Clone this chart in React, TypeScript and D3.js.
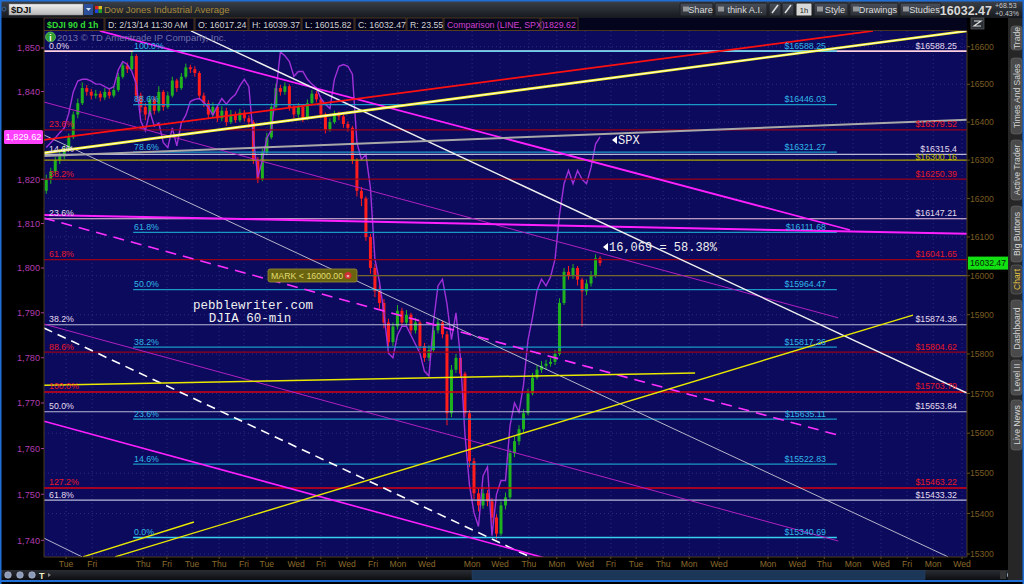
import React from "react";
import * as d3 from "d3";

// ---------------- data ----------------
const djiFirstOpen = 16220;
const djiClose = [
  16250,16270,16300,16310,16330,16360,16420,16450,16490,16480,
  16470,16475,16465,16480,16470,16485,16520,16550,16540,16575,
  16470,16440,16420,16460,16430,16480,16440,16470,16510,16490,
  16520,16545,16540,16530,16470,16450,16420,16440,16410,16430,
  16400,16420,16405,16425,16410,16400,16300,16250,16320,16360,
  16440,16490,16480,16495,16440,16420,16440,16410,16450,16475,
  16460,16420,16380,16400,16420,16415,16395,16385,16300,16220,
  16200,16100,16020,15960,15930,15880,15830,15870,15910,15880,
  15900,15860,15880,15820,15790,15810,15860,15880,15850,15650,
  15760,15790,15750,15650,15530,15450,15420,15450,15430,15390,
  15350,15420,15440,15550,15580,15610,15650,15700,15740,15760,
  15770,15775,15780,15800,15930,16010,16000,16020,15990,15960,
  15980,16000,16045,16032.47,
];
const djiHigh = [
  16262,16280,16308,16322,16340,16370,16428,16462,16505,16498,
  16488,16485,16482,16490,16488,16495,16530,16560,16558,16588,
  16580,16478,16450,16470,16468,16495,16485,16480,16520,16515,
  16530,16555,16552,16548,16535,16478,16458,16452,16448,16442,
  16438,16432,16428,16435,16432,16418,16405,16308,16330,16372,
  16450,16502,16498,16505,16500,16448,16450,16445,16460,16485,
  16482,16465,16425,16410,16430,16428,16420,16402,16390,16305,
  16230,16205,16108,16030,15975,15940,15890,15880,15925,15918,
  15912,15905,15892,15885,15828,15822,15870,15890,15885,15858,
  15772,15800,15795,15755,15658,15538,15462,15465,15458,15438,
  15398,15430,15452,15560,15592,15620,15660,15712,15752,15772,
  15782,15785,15790,15810,15942,16020,16025,16030,16025,15995,
  15990,16012,16055,16050,
];
const djiLow = [
  16212,16238,16262,16290,16302,16325,16355,16410,16445,16470,
  16460,16462,16455,16458,16462,16465,16480,16515,16530,16535,
  16455,16425,16405,16415,16420,16425,16430,16435,16465,16480,
  16485,16515,16530,16520,16460,16440,16408,16412,16400,16402,
  16390,16395,16398,16400,16402,16385,16290,16240,16245,16315,
  16355,16435,16470,16472,16430,16410,16412,16400,16405,16445,
  16452,16410,16370,16375,16395,16405,16385,16375,16290,16205,
  16180,16090,16005,15945,15915,15865,15815,15820,15862,15870,
  15872,15850,15852,15810,15780,15782,15805,15852,15840,15620,
  15640,15752,15740,15640,15515,15435,15405,15412,15418,15375,
  15336,15345,15410,15435,15540,15570,15602,15645,15695,15735,
  15752,15760,15768,15772,15795,15925,15990,15992,15975,15870,
  15950,15972,15995,16025,
];
const spxClose = [
  1827.2,1828.3,1829.4,1830.6,1831.7,1835,1839.9,1842.4,1842.8,1842.8,
  1842.4,1841.7,1841.7,1841.1,1840.6,1841.1,1845,1846.9,1846.2,1844.6,
  1841.7,1833.2,1831,1835.5,1832.1,1832.8,1828.3,1827.2,1831.7,1827.6,
  1832.8,1834.6,1837.7,1838.2,1838.4,1837.5,1836.4,1834.6,1836.6,1838.4,
  1837.1,1838.4,1839.3,1841.3,1842.8,1841.1,1829.4,1820.5,1824.3,1829.4,
  1831.2,1839.9,1849.1,1848.2,1846.9,1843.5,1844.6,1844.6,1842.8,1841.7,
  1840.8,1838.4,1837.1,1836.1,1842.8,1845.8,1846.2,1845.8,1844,1828.3,
  1824.5,1825.6,1818,1802,1797,1790,1781,1780,1785,1787,
  1787,1785,1783,1781,1777,1776,1788,1796,1797.5,1792,
  1784,1790,1780,1763,1752,1746,1743,1754,1756,1741,
  1750,1753,1753,1765,1770,1768,1774,1784,1789,1795,
  1797.5,1796,1798,1802,1812,1819,1822,1819,1822,1820,
  1819,1822.7,1828,1829.62,
];
const xTickLabels = ["Tue","Fri","Thu","Fri","Tue","Thu","Fri","Tue","Wed","Fri","Wed","Fri","Mon","Wed","Mon","Wed","Thu","Mon","Wed","Fri","Tue","Thu","Mon","Wed","Mon","Wed","Thu","Mon","Wed","Fri","Mon","Wed"];
const xTickPos = [4.9,10.7,22.0,27.3,32.9,38.9,44.4,49.5,56.0,61.5,67.3,73.1,78.6,85.0,95.1,101.3,107.7,113.9,120.2,125.9,131.5,137.5,143.3,149.9,160.8,167.3,173.3,179.7,185.9,191.7,197.5,203.9];
const djiTicks = [15300,15400,15500,15600,15700,15800,15900,16000,16100,16200,16300,16400,16500,16600];
const spxTicks = [1740,1750,1760,1770,1780,1790,1800,1810,1820,1840,1850];

const whiteFibPct = ["0.0%","14.6%","23.6%","38.2%","50.0%","61.8%"];
const whiteFibVal = [16588.25,16315.4,16147.21,15874.36,15653.84,15433.32];
const redFibPct = ["23.6%","38.2%","61.8%","88.6%","100.0%","127.2%"];
const redFibVal = [16379.52,16250.39,16041.65,15804.62,15703.79,15463.22];
const cyanFibPct = ["100.0%","88.6%","78.6%","61.8%","50.0%","38.2%","23.6%","14.6%","0.0%"];
const cyanFibVal = [16588.25,16446.03,16321.27,16111.68,15964.47,15817.26,15635.11,15522.83,15340.69];
const cyanFibSpan = [19.8,176.1];
const yellowLevel = 16300.16;
const markLevel = 16000;
const markSpan = [69.7,205];

// trendline endpoints: [bar index, DJI value]
const redTrend = [[0,16353],[184.1,16642]];
const yellowWhiteTrend = [[0,16319],[205,16642]];
const grayTrend = [[0,16311],[205,16406]];
const magentaDesc = [[12.4,16642],[179.0,16118]];
const magentaFlat = [[0,16157],[205,16108]];
const purpleThin1 = [[0,16453],[176.4,15892]];
const purpleThin2 = [[0,15876],[176.4,15332]];
const magentaLow = [[0,15630],[111.3,15290]];
const magentaDashed = [[0,16149],[176.4,15595]];
const whiteDashed = [[0,15866],[107.9,15293]];
const whiteThinLong = [[0,16366],[200.8,15293]];
const whiteUpper = [[32.65,16642],[205,15701]];
const whiteShort = [[0,15339],[8.44,15293]];
const yellowFlat = [[0,15721],[144.6,15752]];
const yellowRise = [[15.77,15293],[193.0,15899]];
const yellowShort = [[8.66,15293],[33.3,15379]];

const spxLast = 1829.62;
const djiLast = 16032.47;

// ---------------- layout ----------------
const PL = 44, PR = 967, PT = 31, PB = 557;
const UI = "'Liberation Sans', Arial, sans-serif";
const MONO = "'Liberation Mono', 'DejaVu Sans Mono', monospace";

export default function App() {
  const x = d3.scaleLinear().domain([0, 205]).range([PL, PR]);
  const yR = d3.scaleLog().domain([15300, 16600]).range([554, 46.7]);
  const yL = d3.scaleLog().domain([1740, 1850]).range([540.3, 48]);

  const spxLine = d3.line<number>().x((_, i) => x(i + 0.5)).y((d) => yL(d));

  const seg = (p: number[][], stroke: string, w: number, dash?: string) => (
    <line x1={x(p[0][0])} y1={yR(p[0][1])} x2={x(p[1][0])} y2={yR(p[1][1])}
      stroke={stroke} strokeWidth={w} strokeDasharray={dash} />
  );

  const opens = djiClose.map((_, i) => (i === 0 ? djiFirstOpen : djiClose[i - 1]));

  const headerButtons: [string, number, number][] = [
    ["Share", 680, 713], ["think A.I.", 715, 767], ["", 769, 781], ["", 782, 794],
    ["1h", 796, 812], ["Style", 814, 848], ["Drawings", 850, 898], ["Studies", 900, 941],
  ];
  const infoCells: [string, number, number, string][] = [
    ["$DJI 90 d 1h", 44, 104, "#33dd33"], ["D: 2/13/14 11:30 AM", 105, 194, "#d0d0d0"],
    ["O: 16017.24", 195, 248, "#d0d0d0"], ["H: 16039.37", 249, 301, "#d0d0d0"],
    ["L: 16015.82", 302, 354, "#d0d0d0"], ["C: 16032.47", 355, 406, "#d0d0d0"],
    ["R: 23.55", 407, 443, "#d0d0d0"], ["Comparison (LINE, SPX)", 444, 540, "#d040d0"],
    ["1829.62", 541, 578, "#d040d0"],
  ];
  const tabs: [string, number, number, boolean][] = [
    ["Trade", 26, 50, false], ["Times And Sales", 58, 134, false], ["Active Trader", 140, 200, false],
    ["Big Buttons", 206, 262, false], ["Chart", 265, 294, true], ["Dashboard", 300, 357, false],
    ["Level II", 360, 395, false], ["Live News", 400, 450, false],
  ];

  return (
    <svg width={1024} height={584} style={{ position: "absolute", left: 0, top: 0, background: "#000" }}
      fontFamily={UI}>
      <defs>
        <linearGradient id="hdr" x1="0" y1="0" x2="0" y2="1">
          <stop offset="0" stopColor="#3b4049" />
          <stop offset="1" stopColor="#15181d" />
        </linearGradient>
        <linearGradient id="btn" x1="0" y1="0" x2="0" y2="1">
          <stop offset="0" stopColor="#4a505a" />
          <stop offset="1" stopColor="#2a2e35" />
        </linearGradient>
        <linearGradient id="inp" x1="0" y1="0" x2="0" y2="1">
          <stop offset="0" stopColor="#f0f0f0" />
          <stop offset="1" stopColor="#b8b8b8" />
        </linearGradient>
        <linearGradient id="scr" x1="0" y1="0" x2="0" y2="1">
          <stop offset="0" stopColor="#2a2d33" />
          <stop offset="1" stopColor="#0c0d10" />
        </linearGradient>
        <clipPath id="plot"><rect x={PL} y={PT} width={PR - PL} height={PB - PT} /></clipPath>
      </defs>

      <rect x={0} y={0} width={1024} height={584} fill="#000" />
      <rect x={0} y={1} width={1024} height={17} fill="url(#hdr)" />
      <rect x={0} y={0} width={1024} height={1.5} fill="#1f6fd6" />

      <circle cx={4} cy={9} r={2} fill="none" stroke="#3a6090" />
      <rect x={9} y={4} width={74} height={11} fill="url(#inp)" stroke="#888" strokeWidth={0.5} />
      <text x={11} y={13} fontSize={9.5} fontWeight="bold" fill="#111">$DJI</text>
      <rect x={84} y={4} width={9} height={11} fill="#2c4f9a" />
      <path d="M86 8 L91 8 L88.5 11 Z" fill="#cde" />
      <rect x={95} y={6} width={3.5} height={3.5} fill="#e02020" />
      <rect x={98.5} y={6} width={3.5} height={3.5} fill="#e0c020" />
      <rect x={95} y={9.5} width={3.5} height={3.5} fill="#2040e0" />
      <rect x={98.5} y={9.5} width={3.5} height={3.5} fill="#20a020" />
      <text x={104} y={13} fontSize={9.5} fill="#a8893a">Dow Jones Industrial Average</text>
      {headerButtons.map(([t, a, b], i) => (
        <g key={i}>
          <rect x={a} y={3} width={b - a} height={13} rx={1.5} fill={t === "1h" ? "#d8d8d8" : "url(#btn)"} stroke="#1a1c20" />
          {t && <text x={(a + b) / 2 + (t === "1h" ? 0 : 4)} y={12.8} fontSize={t === "1h" ? 7.5 : 9.2}
            textAnchor="middle" fill={t === "1h" ? "#222" : "#dcdcdc"}>{t}</text>}
          {t && t !== "1h" && <rect x={a + 3} y={6.5} width={6} height={5} fill="#bbb" opacity={0.7} />}
          {!t && <path d={`M${a + 3} ${13} L${b - 3} 5`} stroke="#ddd" strokeWidth={1.5} />}
        </g>
      ))}
      <text x={992} y={14.5} fontSize={12.5} fontWeight="bold" textAnchor="end" fill="#d8d8d8">16032.47</text>
      <text x={995} y={8} fontSize={7} fill="#c8c8c8">+68.53</text>
      <text x={995} y={15.5} fontSize={7} fill="#c8c8c8">+0.43%</text>

      <rect x={PL} y={18} width={PR - PL} height={13} fill="#04041c" />
      {infoCells.map(([t, a, b, c], i) => (
        <g key={i}>
          <rect x={a} y={18} width={b - a} height={12.5} fill="none" stroke="#5a4020" strokeWidth={0.8} />
          <text x={a + 3} y={27.5} fontSize={8.8} fill={c} fontWeight={i === 0 ? "bold" : "normal"}>{t}</text>
        </g>
      ))}
      <line x1={PL} y1={30.5} x2={PR} y2={30.5} stroke="#5a4020" strokeWidth={0.8} />
      <rect x={971} y={18} width={13} height={11} fill="#2a2e35" stroke="#666" strokeWidth={0.6} />
      <path d="M974 21 L981 21 L974 26 L981 26" stroke="#ddd" fill="none" strokeWidth={1.2} />

      <rect x={PL} y={PT} width={PR - PL} height={PB - PT} fill="#0c0a5c" />
      <g clipPath="url(#plot)">
        {xTickPos.map((p, i) => (
          <line key={"gx" + i} x1={x(p)} x2={x(p)} y1={PT} y2={PB} stroke="#34348a" strokeWidth={0.8} strokeDasharray="1,3" />
        ))}
        {djiTicks.map((t) => (
          <line key={"gy" + t} x1={PL} x2={PR} y1={yR(t)} y2={yR(t)} stroke="#34348a" strokeWidth={0.8} strokeDasharray="1,3" />
        ))}

        {djiClose.map((c, i) => {
          const o = opens[i];
          const up = c >= o;
          const col = up ? "#1fb21f" : "#ff1c1c";
          const cx = x(i + 0.5);
          const top = yR(Math.max(o, c));
          const bot = yR(Math.min(o, c));
          return (
            <g key={"c" + i}>
              <line x1={cx} x2={cx} y1={yR(djiHigh[i])} y2={yR(djiLow[i])} stroke={col} strokeWidth={1} />
              <rect x={cx - 1.5} y={top} width={3} height={Math.max(1, bot - top)} fill={col} />
            </g>
          );
        })}

        <path d={spxLine(spxClose) || ""} fill="none" stroke="#a030d8" strokeWidth={1.4} />

        {whiteFibVal.map((v, i) => (
          <line key={"wf" + i} x1={PL} x2={PR} y1={yR(v)} y2={yR(v)}
            stroke={i === 0 ? "#ffd0e0" : i === 2 ? "#f0c8e0" : "#b8b8d8"} strokeWidth={i === 0 ? 1.6 : 1.2} />
        ))}
        {redFibVal.map((v, i) => (
          <line key={"rf" + i} x1={PL} x2={PR} y1={yR(v)} y2={yR(v)}
            stroke={i >= 4 ? "#d80010" : "#980018"} strokeWidth={i >= 4 ? 1.6 : 1.2} />
        ))}
        <line x1={PL} x2={PR} y1={yR(yellowLevel)} y2={yR(yellowLevel)} stroke="#a8a000" strokeWidth={1.1} />
        <line x1={x(markSpan[0])} x2={x(markSpan[1])} y1={yR(markLevel)} y2={yR(markLevel)} stroke="#77672a" strokeWidth={1.2} />
        {cyanFibVal.map((v, i) => (
          <line key={"cf" + i} x1={x(cyanFibSpan[0])} x2={x(cyanFibSpan[1])} y1={yR(v)} y2={yR(v)}
            stroke={i === 0 || i === 8 ? "#38d0f0" : "#1a98c8"} strokeWidth={1.3} />
        ))}

        {seg(purpleThin1, "#b020c0", 1)}
        {seg(purpleThin2, "#b020c0", 1)}
        {seg(whiteThinLong, "#c8c8d8", 0.9)}
        {seg(whiteShort, "#c8c8d8", 0.9)}
        {seg(whiteDashed, "#ffffff", 1.6, "9,6")}
        {seg(magentaDashed, "#ff30ff", 1.6, "11,7")}
        {seg(magentaLow, "#ff20ff", 1.6)}
        {seg(magentaFlat, "#ff20ff", 2)}
        {seg(magentaDesc, "#ff20ff", 1.8)}
        {seg(whiteUpper, "#f0f0f0", 1.4)}
        {seg(grayTrend, "#a8a8a8", 2)}
        {seg(redTrend, "#ff1010", 1.8)}
        {seg(yellowWhiteTrend, "#f4f020", 2.6)}
        {seg(yellowWhiteTrend, "#ffffff", 0.9)}
        {seg(yellowFlat, "#e8e800", 1.5)}
        {seg(yellowRise, "#e8e800", 1.4)}
        {seg(yellowShort, "#e8e800", 1.4)}
      </g>

      <g fontSize={8.8}>
        {whiteFibPct.map((t, i) => (
          <text key={"wl" + i} x={49} y={yR(whiteFibVal[i]) - 2.5} fill="#e4dcf0">{t}</text>
        ))}
        {redFibPct.map((t, i) => (
          <text key={"rl" + i} x={49} y={yR(redFibVal[i]) - 2.5} fill="#e81828">{t}</text>
        ))}
        {cyanFibPct.map((t, i) => (
          <text key={"cl" + i} x={134} y={yR(cyanFibVal[i]) - 2.5} fill="#30b8e8">{t}</text>
        ))}
        {whiteFibVal.map((v, i) => (
          <text key={"wr" + i} x={957} y={yR(v) - 2.5} textAnchor="end" fill="#e4dcf0">{"$" + v}</text>
        ))}
        {redFibVal.map((v, i) => (
          <text key={"rr" + i} x={957} y={yR(v) - 2.5} textAnchor="end" fill="#e81828">{"$" + v}</text>
        ))}
        <text x={957} y={yR(yellowLevel) - 0.5} textAnchor="end" fill="#c8c000">{"$" + yellowLevel}</text>
        {cyanFibVal.map((v, i) => (
          <text key={"cr" + i} x={826} y={yR(v) - 2.5} textAnchor="end" fill="#30b8e8">{"$" + v}</text>
        ))}
      </g>

      <circle cx={50.5} cy={37} r={5} fill="#30a030" stroke="#80d080" strokeWidth={0.6} />
      <text x={50.5} y={40.5} fontSize={8.5} fontWeight="bold" textAnchor="middle" fill="#fff">i</text>
      <text x={57} y={40.5} fontSize={9.5} fill="#7070a8">2013 © TD Ameritrade IP Company, Inc.</text>

      <g fontFamily={MONO} fill="#f0f0f0">
        <text x={253} y={309} fontSize={12.5} textAnchor="middle">pebblewriter.com</text>
        <text x={250} y={322} fontSize={12.5} textAnchor="middle">DJIA 60-min</text>
        <path d="M612 140 L617 136 L617 144 Z" fill="#fff" />
        <text x={618} y={144} fontSize={12}>SPX</text>
        <path d="M603 247 L608 243 L608 251 Z" fill="#fff" />
        <text x={609} y={251} fontSize={12}>16,069 = 58.38%</text>
      </g>
      <rect x={268} y={269} width={89} height={13} rx={2} fill="#6a6410" stroke="#9a9030" strokeWidth={0.8} />
      <text x={271} y={279} fontSize={8.8} fill="#e0dc70">MARK &lt; 16000.00</text>
      <circle cx={348} cy={275.5} r={3.5} fill="#d03030" />
      <text x={348} y={278} fontSize={6} textAnchor="middle" fill="#fff">×</text>

      <line x1={PL} x2={PL} y1={PT} y2={PB} stroke="#4a3a1a" />
      {spxTicks.map((t) => (
        <g key={"la" + t}>
          <line x1={PL - 3} x2={PL} y1={yL(t)} y2={yL(t)} stroke="#a03aa0" />
          <text x={PL - 4} y={yL(t) + 3.3} fontSize={9.2} textAnchor="end" fill="#b03cb0">{d3.format(",")(t)}</text>
        </g>
      ))}
      <rect x={4} y={yL(spxLast) - 7} width={39} height={14} rx={1.5} fill="#ff40ff" />
      <text x={23.5} y={yL(spxLast) + 3.3} fontSize={9.2} textAnchor="middle" fill="#fff">{d3.format(",.2f")(spxLast)}</text>

      <line x1={PR} x2={PR} y1={PT} y2={PB} stroke="#4a3a1a" />
      {djiTicks.map((t) => (
        <g key={"ra" + t}>
          <line x1={PR} x2={PR + 3} y1={yR(t)} y2={yR(t)} stroke="#6a5020" />
          <text x={PR + 3} y={yR(t) + 3.2} fontSize={8.6} fill="#7a5c24">{t}</text>
        </g>
      ))}
      <rect x={968} y={yR(djiLast) - 6.5} width={40} height={13} fill="#12e012" />
      <text x={988} y={yR(djiLast) + 3.2} fontSize={8.6} textAnchor="middle" fill="#062006">{djiLast}</text>

      <line x1={PL} x2={PR} y1={PB} y2={PB} stroke="#4a3a1a" />
      {xTickPos.map((p, i) => (
        <g key={"bx" + i}>
          <line x1={x(p)} x2={x(p)} y1={PB} y2={PB + 2} stroke="#6a5020" />
          <text x={x(p)} y={567} fontSize={8.6} textAnchor="middle" fill="#8a6a2c">{xTickLabels[i]}</text>
        </g>
      ))}
      <rect x={0} y={570} width={1008} height={10} fill="url(#scr)" />
      <rect x={472} y={570.5} width={453} height={9} fill="#1b3656" stroke="#25466e" strokeWidth={0.5} />
      {[5, 17, 29].map((cx) => (
        <circle key={cx} cx={cx + 3} cy={575} r={3.3} fill="#8a9ab8" stroke="#ccd" strokeWidth={0.5} />
      ))}
      <text x={39} y={579} fontSize={9} fontWeight="bold" fill="#f0f0c0">T</text>
      <path d="M48 573 L51 575 L48 577 Z" fill="#888" />
      <rect x={1000} y={571} width={6} height={8} fill="#333" />
      <circle cx={1010} cy={575} r={3} fill="#9ab" />
      <rect x={0} y={580} width={1024} height={2} fill="#1f6fd6" />
      <rect x={0} y={0} width={1.5} height={584} fill="#1f6fd6" />

      <rect x={1008} y={18} width={15} height={562} fill="#262626" />
      {tabs.map(([t, a, b, act]) => (
        <g key={t}>
          <rect x={1011} y={a} width={11} height={b - a} rx={3} fill={act ? "#3a3a3a" : "#4a4a4a"} stroke="#6a6a6a" strokeWidth={0.6} />
          <text transform={`translate(1019.5,${(a + b) / 2}) rotate(-90)`} fontSize={8.6} textAnchor="middle"
            fill={act ? "#e8c440" : "#d4d4d4"}>{t}</text>
        </g>
      ))}
      <rect x={1022.5} y={0} width={1.5} height={584} fill="#1f6fd6" />
    </svg>
  );
}
